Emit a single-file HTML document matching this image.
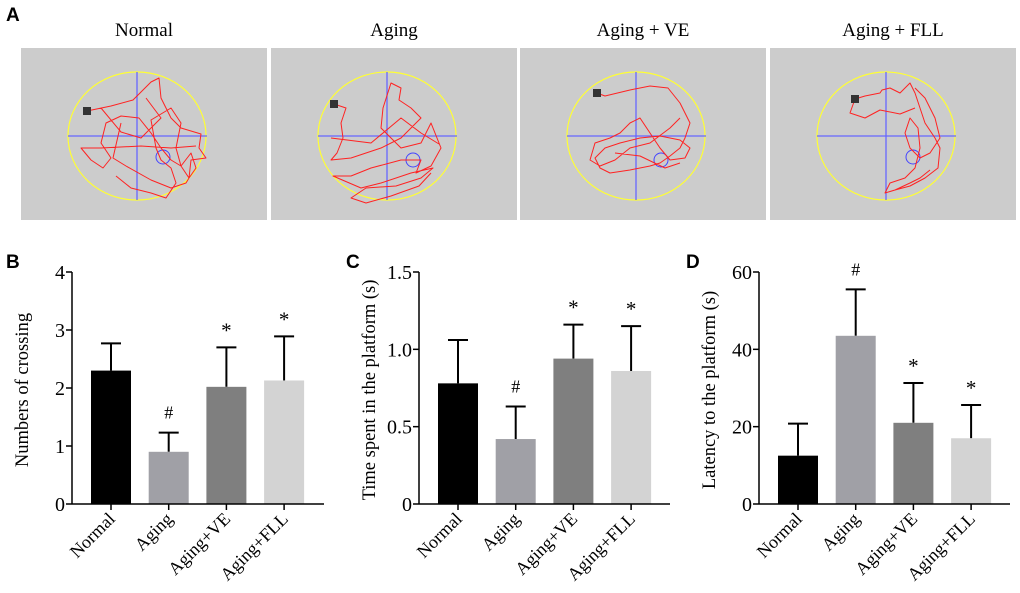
<!DOCTYPE html>
<html><head><meta charset="utf-8"><style>
body{margin:0;background:#fff;width:1020px;height:593px;overflow:hidden}
svg{display:block;font-family:"Liberation Serif",serif}
</style></head><body>
<svg id="fig" width="1020" height="593" viewBox="0 0 1020 593">
<g id="panelA"></g>
<g id="charts"></g>
</svg>
<script>
const NS="http://www.w3.org/2000/svg";
function mk(tag,attrs,parent,text){const e=document.createElementNS(NS,tag);for(const k in attrs)e.setAttribute(k,attrs[k]);if(text!==undefined)e.textContent=text;parent.appendChild(e);return e;}
const svg=document.getElementById('fig');
const A=document.getElementById('panelA');
const letters=[["A",6,21],["B",6,268],["C",346,268],["D",686,268]];
letters.forEach(l=>{const t=mk('text',{x:l[1],y:l[2],'font-family':'Liberation Sans, sans-serif','font-weight':'bold','font-size':19,fill:'#000'},svg,l[0]);

});

const titlesA=["Normal","Aging","Aging + VE","Aging + FLL"];
const boxX=[21,271,520,770];
const paths=[
"M66,63 L90,58 L112,52 L130,34 L138,30 L140,50 L150,70 L160,80 L180,86 L178,100 L185,110 L170,112 L168,130 L160,118 L150,112 L140,100 L130,85 L118,70 L100,68 L85,75 L80,95 L90,110 L82,120 L70,112 L60,100 L80,100 L120,98 L150,100 L175,98 M95,128 L110,140 L130,145 L145,150 L155,135 L150,120 L140,112 L135,100 L130,72 L150,60 L160,75 L155,100 L160,118 L170,105 L175,120 L168,130 L165,135 L150,140 L130,132 L105,118 L92,110 L100,75 M80,60 L100,84 L120,90 L140,70 L125,50",
"M63,56 L75,60 L70,75 L72,90 L66,105 L60,112 L80,110 L110,100 L130,90 L140,80 L150,70 L140,60 L128,52 L130,40 L120,35 L112,60 L110,80 L120,90 L130,100 L150,95 L160,75 L170,100 L160,118 L145,125 L150,112 L130,112 L100,120 L80,128 L62,128 L90,140 L110,135 L140,125 L162,120 L150,130 L125,138 L95,140 L80,150 L95,155 L120,148 L148,138 L160,125 M60,90 L100,95 L130,70 L150,85 L168,96",
"M77,45 L85,48 L110,42 L130,38 L148,40 L160,55 L170,75 L165,90 L160,100 L150,108 L140,115 L130,118 L110,122 L90,125 L80,120 L75,110 L85,100 L100,95 L120,90 L140,88 L160,92 L170,100 L165,110 L150,112 L140,100 L130,85 L120,70 L110,75 L100,85 L90,90 L75,95 L70,112 L80,118 L95,112 L110,100 L130,95 L150,80 L160,70 M95,105 L120,108 L145,120 L160,115",
"M85,51 L95,48 L110,45 L112,42 L120,40 L130,45 L140,35 L145,45 L150,60 L155,75 L165,90 L170,100 L168,120 L155,130 L140,138 L125,142 L115,145 L120,135 L135,130 L145,120 L150,100 L148,80 L140,70 L135,85 L140,100 L150,110 L160,105 L170,90 L165,70 L155,50 L145,40 M85,51 L80,65 L95,70 L110,62 L130,66 L145,60 M125,142 L140,135 L150,130 L160,122"
];
const platX=[66,63,77,85], platY=[63,56,45,51];
const goalX=[142,142,141,143], goalY=[109,112,112,109];
titlesA.forEach((t,i)=>{
  const g=mk('g',{transform:`translate(${boxX[i]},48)`},A);
  
  
  mk('rect',{x:0,y:0,width:246,height:172,fill:'#cccccc'},g);
  mk('ellipse',{cx:116,cy:88,rx:69,ry:64,fill:'none',stroke:'#ffff33','stroke-width':1.2},g);
  mk('line',{x1:47,y1:88,x2:186,y2:88,stroke:'#6666ff','stroke-width':1.3},g);
  mk('line',{x1:116,y1:24,x2:116,y2:152,stroke:'#6666ff','stroke-width':1.3},g);
  mk('circle',{cx:goalX[i],cy:goalY[i],r:7,fill:'none',stroke:'#4444ff','stroke-width':1},g);
  mk('path',{d:paths[i],fill:'none',stroke:'#ff2222','stroke-width':1,'stroke-linejoin':'round'},g);
  mk('rect',{x:platX[i]-4,y:platY[i]-4,width:8,height:8,fill:'#333'},g);
  const tt=mk('text',{x:boxX[i]+123,y:36,'text-anchor':'middle','font-size':19,fill:'#000'},A,t);
  
  
});

const categories=["Normal","Aging","Aging+VE","Aging+FLL"];
const crossingMeans=[2.3,0.9,2.02,2.13];
const crossingErr=[0.47,0.33,0.68,0.76];
const crossingMarks=["","#","*","*"];
const crossingTicks=[0,1,2,3,4];
const timeMeans=[0.78,0.42,0.94,0.86];
const timeErr=[0.28,0.21,0.22,0.29];
const timeMarks=["","#","*","*"];
const timeTicks=["0","0.5","1.0","1.5"];
const latencyMeans=[12.5,43.5,21,17];
const latencyErr=[8.3,12,10.3,8.6];
const latencyMarks=["","#","*","*"];
const latencyTicks=[0,20,40,60];
const colors=["#000000","#a0a0a6","#7f7f7f","#d3d3d3"];

const C=document.getElementById('charts');
function chart(id,ax,axEnd,ymax,ticks,means,errs,marks,title){
  const g=mk('g',{},C);
  
  
  const y0=504,ytop=272;
  const ys=v=>y0-(v/ymax)*(y0-ytop);
  const step=57.7, first=ax+39;
  const xs=i=>first+i*step;
  means.forEach((m,i)=>{
    const cx=xs(i);
    const top=ys(m+errs[i]);
    const eb=mk('line',{x1:cx,y1:ys(m),x2:cx,y2:top,stroke:'#000','stroke-width':2},g);
    
    
    mk('line',{x1:cx-10,y1:top,x2:cx+10,y2:top,stroke:'#000','stroke-width':2},g);
    const b=mk('rect',{x:cx-20,y:ys(m),width:40,height:y0-ys(m),fill:colors[i]},g);
    
    
    if(marks[i]){const s=mk('text',{x:cx,y:top-(marks[i]=='*'?10:14),'text-anchor':'middle','font-size':marks[i]=='*'?21:18,fill:'#000'},g,marks[i]);
      
      }
    mk('line',{x1:cx,y1:y0,x2:cx,y2:y0+6,stroke:'#000','stroke-width':1.5},g);
    const lb=mk('text',{x:cx+5,y:y0+16,'text-anchor':'end','font-size':18,fill:'#000',transform:`rotate(-45 ${cx+5} ${y0+16})`},g,categories[i]);
    
    
  });
  mk('line',{x1:ax,y1:ytop,x2:ax,y2:y0,stroke:'#000','stroke-width':1.5},g);
  mk('line',{x1:ax,y1:y0,x2:axEnd,y2:y0,stroke:'#000','stroke-width':1.5},g);
  ticks.forEach(t=>{const y=ys(parseFloat(t));
    mk('line',{x1:ax-6,y1:y,x2:ax,y2:y,stroke:'#000','stroke-width':1.5},g);
    const tl=mk('text',{x:ax-7,y:y+7,'text-anchor':'end','font-size':20,fill:'#000'},g,t);
    
    });
  const tx=ax-44, ty=(y0+ytop)/2+2;
  const yt=mk('text',{x:tx,y:ty,'text-anchor':'middle','font-size':18.5,fill:'#000',transform:`rotate(-90 ${tx} ${ty})`},g,title);
  
  
}
chart('chart-crossings',72,324,4,crossingTicks,crossingMeans,crossingErr,crossingMarks,'Numbers of crossing');
chart('chart-time-platform',419,670,1.5,timeTicks,timeMeans,timeErr,timeMarks,'Time spent in the platform (s)');
chart('chart-latency',759,1010,60,latencyTicks,latencyMeans,latencyErr,latencyMarks,'Latency to the platform (s)');
</script>
</body></html>
